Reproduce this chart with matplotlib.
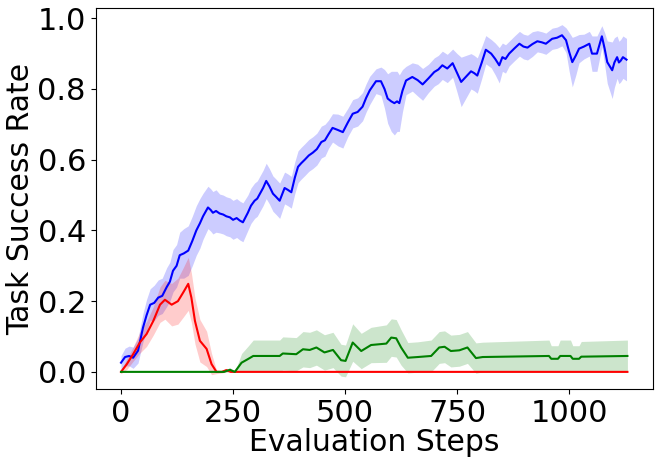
import numpy as np
import matplotlib
matplotlib.use('Agg')
import matplotlib.pyplot as plt

# blue run
blue_steps = [0, 9, 18, 27, 38, 49, 57, 65, 74, 83,
              92, 102, 109, 116, 124, 131, 140, 150, 159, 168,
              176, 183, 194, 200, 205, 212, 220, 228, 235, 243,
              250, 258, 265, 272, 283, 290, 298, 304, 310, 317,
              324, 331, 339, 346, 354, 365, 372, 380, 388, 395,
              402, 410, 419, 428, 437, 447, 455, 463, 472, 484,
              495, 506, 517, 528, 539, 547, 555, 569, 580, 588,
              595, 603, 610, 616, 621, 628, 636, 650, 662, 673,
              686, 699, 708, 717, 728, 740, 750, 759, 770, 781,
              788, 795, 805, 814, 826, 835, 844, 851, 858, 866,
              878, 889, 898, 907, 918, 929, 939, 948, 962, 973,
              984, 993, 1000, 1007, 1015, 1022, 1033, 1045, 1051, 1062,
              1073, 1079, 1085, 1096, 1101, 1107, 1111, 1115, 1120, 1128]
blue_mean = [0.026, 0.042, 0.045, 0.04, 0.06, 0.125, 0.16, 0.19, 0.195, 0.21,
             0.215, 0.24, 0.255, 0.286, 0.30, 0.33, 0.335, 0.343, 0.37, 0.40,
             0.42, 0.44, 0.465, 0.458, 0.45, 0.455, 0.448, 0.445, 0.44, 0.437,
             0.43, 0.435, 0.428, 0.423, 0.45, 0.47, 0.484, 0.49, 0.504, 0.52,
             0.54, 0.525, 0.504, 0.495, 0.484, 0.52, 0.515, 0.508, 0.55, 0.58,
             0.59, 0.60, 0.612, 0.62, 0.63, 0.65, 0.655, 0.672, 0.69, 0.684,
             0.678, 0.705, 0.73, 0.735, 0.75, 0.775, 0.796, 0.822, 0.822, 0.80,
             0.773, 0.765, 0.76, 0.765, 0.76, 0.795, 0.824, 0.834, 0.825, 0.813,
             0.83, 0.848, 0.855, 0.867, 0.858, 0.873, 0.845, 0.82, 0.835, 0.85,
             0.845, 0.838, 0.875, 0.911, 0.90, 0.885, 0.867, 0.89, 0.885, 0.90,
             0.915, 0.928, 0.92, 0.917, 0.927, 0.935, 0.932, 0.928, 0.942, 0.945,
             0.952, 0.938, 0.905, 0.876, 0.895, 0.914, 0.92, 0.928, 0.90, 0.90,
             0.949, 0.915, 0.876, 0.853, 0.875, 0.89, 0.875, 0.88, 0.89, 0.883]
blue_std = [0.02, 0.025, 0.028, 0.03, 0.035, 0.04, 0.045, 0.045, 0.05, 0.05,
            0.05, 0.055, 0.055, 0.06, 0.06, 0.065, 0.07, 0.07, 0.07, 0.07,
            0.07, 0.065, 0.06, 0.06, 0.06, 0.06, 0.055, 0.055, 0.055, 0.055,
            0.055, 0.055, 0.055, 0.055, 0.05, 0.05, 0.05, 0.05, 0.05, 0.05,
            0.05, 0.05, 0.05, 0.05, 0.05, 0.045, 0.045, 0.045, 0.045, 0.045,
            0.045, 0.045, 0.045, 0.045, 0.045, 0.045, 0.045, 0.04, 0.04, 0.045,
            0.045, 0.04, 0.04, 0.04, 0.04, 0.04, 0.04, 0.035, 0.04, 0.055,
            0.07, 0.085, 0.09, 0.085, 0.08, 0.06, 0.04, 0.04, 0.045, 0.045,
            0.04, 0.04, 0.04, 0.04, 0.04, 0.04, 0.055, 0.07, 0.06, 0.05,
            0.05, 0.05, 0.045, 0.04, 0.04, 0.045, 0.05, 0.04, 0.04, 0.035,
            0.035, 0.035, 0.035, 0.035, 0.035, 0.03, 0.03, 0.03, 0.03, 0.03,
            0.03, 0.035, 0.055, 0.07, 0.055, 0.04, 0.035, 0.035, 0.05, 0.05,
            0.03, 0.045, 0.06, 0.08, 0.07, 0.06, 0.06, 0.06, 0.06, 0.06]

# red run
red_steps = [0, 13, 27, 42, 57, 72, 87, 98, 113, 127, 139, 150, 157, 165, 176, 191, 202, 213,
             225, 235, 245, 255, 1130]
red_mean = [0, 0.022, 0.05, 0.083, 0.107, 0.144, 0.19, 0.204, 0.19, 0.20, 0.225, 0.249, 0.21,
            0.144, 0.088, 0.065, 0.022, 0.0, 0.0, 0.005, 0.0, 0.0, 0.0]
red_std = [0.005, 0.015, 0.02, 0.03, 0.035, 0.04, 0.05, 0.055, 0.06, 0.065, 0.07, 0.075, 0.07,
           0.065, 0.06, 0.05, 0.03, 0.005, 0.003, 0.005, 0.0, 0.0, 0.0]

# green run
green_steps = [0, 230, 243, 254, 269, 283, 295, 354, 361, 391, 406, 421, 436, 454, 473, 491,
               501, 517, 536, 558, 592, 603, 614, 625, 640, 662, 692, 710, 722, 736, 755, 773,
               792, 807, 955, 960, 975, 980, 1003, 1008, 1022, 1027, 1130]
green_mean = [0, 0, 0.006, 0, 0.026, 0.036, 0.045, 0.045, 0.052, 0.05, 0.064, 0.062, 0.069,
              0.055, 0.062, 0.033, 0.031, 0.083, 0.059, 0.076, 0.08, 0.097, 0.095, 0.069, 0.04,
              0.042, 0.045, 0.069, 0.071, 0.059, 0.061, 0.069, 0.039, 0.042, 0.045, 0.037,
              0.037, 0.045, 0.045, 0.037, 0.037, 0.043, 0.045]
green_std = [0, 0, 0.006, 0, 0.026, 0.036, 0.045, 0.045, 0.047, 0.047, 0.05, 0.05, 0.05, 0.05,
             0.05, 0.045, 0.045, 0.053, 0.05, 0.05, 0.053, 0.053, 0.053, 0.05, 0.043, 0.043,
             0.045, 0.045, 0.045, 0.045, 0.045, 0.045, 0.043, 0.042, 0.045, 0.037, 0.037,
             0.045, 0.045, 0.037, 0.037, 0.043, 0.045]

runs = [(blue_steps, blue_mean, blue_std, 'b'),
        (red_steps, red_mean, red_std, 'r'),
        (green_steps, green_mean, green_std, 'g')]

fig, ax = plt.subplots(figsize=(6.6, 4.65), dpi=100)
fig.subplots_adjust(left=0.145, right=0.989, top=0.982, bottom=0.163)

for steps, mean, std, c in runs:
    x = np.array(steps)
    m = np.array(mean)
    s = np.array(std)
    ax.plot(x, m, color=c, linewidth=1.5)
    ax.fill_between(x, m - s, m + s, color=c, alpha=0.2, linewidth=0)

ax.set_ylim(-0.049, 1.028)
ax.set_yticks([0.0, 0.2, 0.4, 0.6, 0.8, 1.0])
ax.set_xticks([0, 250, 500, 750, 1000])
ax.tick_params(labelsize=22)
ax.set_xlabel('Evaluation Steps', fontsize=21.5, labelpad=0)
ax.set_ylabel('Task Success Rate', fontsize=21.5, labelpad=2)

fig.savefig('out.png')
